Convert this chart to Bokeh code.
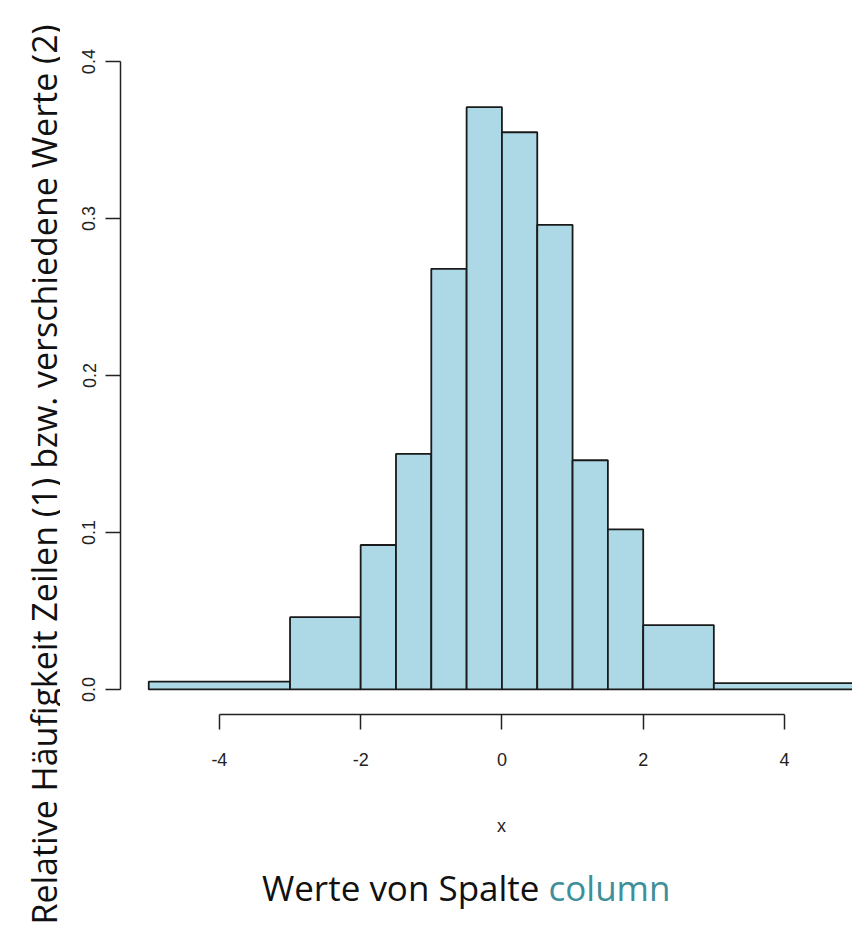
import math
from bokeh.plotting import figure
from bokeh.layouts import row, column
from bokeh.models import Range1d, FixedTicker, NumeralTickFormatter
from bokeh.core.properties import value
from bokeh.embed import file_html
from bokeh.resources import INLINE

# ---- data (density histogram with unequal bins) ----
bin_left = [-5, -3, -2, -1.5, -1, -0.5, 0, 0.5, 1, 1.5, 2, 3]
bin_right = [-3, -2, -1.5, -1, -0.5, 0, 0.5, 1, 1.5, 2, 3, 5]
density = [0.005, 0.046, 0.092, 0.150, 0.268, 0.371, 0.355, 0.296, 0.146, 0.102, 0.041, 0.004]

x_ticks = [-4, -2, 0, 2, 4]
x_tick_labels = ["-4", "-2", "0", "2", "4"]
y_ticks = [0.0, 0.1, 0.2, 0.3, 0.4]

x_title = "x"
y_label_text = "Relative Häufigkeit Zeilen (1) bzw. verschiedene Werte (2)"
bottom_text_1 = "Werte von Spalte"
bottom_text_2 = "column"

TOTAL_W, TOTAL_H = 852, 945
LEFT_W = 60          # strip holding the rotated label
MAIN_H = 790         # histogram figure height
FRAME_LEFT = 120     # left edge of the plotting frame (page pixels)


def text_strip(w, h, x0, y0, border_left=0):
    """A figure whose frame shows page-pixel ranges (y grows downward)."""
    f = figure(width=w, height=h, output_backend="svg", toolbar_location=None,
               x_range=Range1d(x0 + border_left, x0 + w), y_range=Range1d(y0 + h, y0),
               x_axis_type=None, y_axis_type=None, min_border=0,
               min_border_left=border_left)
    f.outline_line_color = None
    f.background_fill_color = "white"
    f.border_fill_color = "white"
    return f


# ---- main histogram ----
p = figure(width=TOTAL_W - LEFT_W, height=MAIN_H, output_backend="svg",
           toolbar_location=None,
           x_range=Range1d(-5.4, 4.963), y_range=Range1d(-0.016, 0.416),
           min_border_left=FRAME_LEFT - LEFT_W, min_border_right=0, min_border_top=36,
           min_border_bottom=MAIN_H - 714)
p.outline_line_color = None
p.xgrid.visible = False
p.ygrid.visible = False
p.background_fill_color = "white"
p.border_fill_color = "white"

p.quad(left=bin_left, right=bin_right, top=density, bottom=0,
       fill_color="#ADD8E6", line_color="#1a1a1a", line_width=1.8)

axis_col = "#222222"
for ax in (p.xaxis[0], p.yaxis[0]):
    ax.axis_line_color = axis_col
    ax.axis_line_width = 1.5
    ax.major_tick_line_color = axis_col
    ax.major_tick_line_width = 1.5
    ax.major_tick_out = 15
    ax.major_tick_in = 0
    ax.minor_tick_line_color = None
    ax.major_label_text_font = "Liberation Sans"
    ax.major_label_text_font_size = "18px"
    ax.major_label_text_color = "#222222"

p.xaxis[0].ticker = FixedTicker(ticks=x_ticks)
p.xaxis[0].bounds = (min(x_ticks), max(x_ticks))
p.xaxis[0].major_label_overrides = {t: s for t, s in zip(x_ticks, x_tick_labels)}
p.xaxis[0].major_label_standoff = 23

p.yaxis[0].ticker = FixedTicker(ticks=y_ticks)
p.yaxis[0].bounds = (min(y_ticks), max(y_ticks))
p.yaxis[0].formatter = NumeralTickFormatter(format="0.0")
p.yaxis[0].major_label_orientation = "vertical"
p.yaxis[0].major_label_standoff = 10

# ---- left strip: rotated y label ----
left = text_strip(LEFT_W, TOTAL_H, 0, 0)
left.text(x=[43], y=[474], text=[y_label_text], angle=math.pi / 2,
          text_align="center", text_baseline="alphabetic",
          text_font=value("Open Sans"), text_font_size="34px", text_color="#111111")

# ---- bottom strip: x label and caption (frame aligned with the histogram frame) ----
bottom = text_strip(TOTAL_W - LEFT_W, TOTAL_H - MAIN_H, LEFT_W, MAIN_H,
                    border_left=FRAME_LEFT - LEFT_W)
bottom.text(x=[501], y=[825], text=[x_title], text_align="center",
            text_baseline="alphabetic", text_font=value("Liberation Sans"),
            text_font_size="18px", text_color="#222222")
bottom.text(x=[539], y=[887], text=[bottom_text_1], text_align="right",
            text_baseline="alphabetic", text_font=value("Open Sans"),
            text_font_size="35px", text_color="#111111")
bottom.text(x=[548], y=[887], text=[bottom_text_2], text_align="left",
            text_baseline="alphabetic", text_font=value("Open Sans"),
            text_font_size="35px", text_color="#3d9099")

layout = row(left, column(p, bottom, spacing=0), spacing=0)

open("out.html", "w").write(file_html(layout, INLINE))
